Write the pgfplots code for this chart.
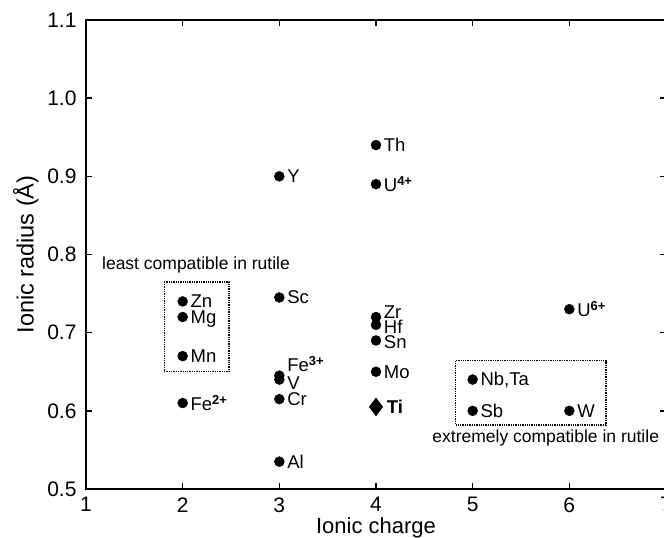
\documentclass[border=0pt]{standalone}
\usepackage{fontspec}
\setmainfont{Liberation Sans}
\usepackage{pgfplots}
\pgfplotsset{compat=1.18}

\newcommand{\lab}{\fontsize{18.5}{19}\selectfont}
\newcommand{\chg}[1]{\textsuperscript{\bfseries #1}}

\begin{document}
\begin{tikzpicture}
\begin{axis}[
    width=580pt, height=469pt,
    scale only axis,
    xmin=1, xmax=7,
    ymin=0.5, ymax=1.1,
    xtick={1,2,3,4,5,6,7},
    ytick={0.5,0.6,0.7,0.8,0.9,1.0,1.1},
    tick align=inside,
    major tick length=6pt,
    axis line style={line width=1.6pt},
    every tick/.style={black, line width=1.4pt},
    ticklabel style={font=\fontsize{21}{22}\selectfont},
    xticklabel style={yshift=-5pt},
    yticklabel style={xshift=-6pt,
        /pgf/number format/fixed,
        /pgf/number format/fixed zerofill,
        /pgf/number format/precision=1},
    /pgf/number format/assume math mode=true,
    xlabel={Ionic charge},
    ylabel={Ionic radius (Å)},
    xlabel style={font=\fontsize{22}{24}\selectfont, yshift=2pt},
    ylabel style={font=\fontsize{23.5}{24}\selectfont, yshift=2pt},
    clip=false,
]
% ions with round markers
\addplot[only marks, mark=*, mark size=5pt, black] coordinates {
    (2,0.74) (2,0.72) (2,0.67) (2,0.61)
    (3,0.90) (3,0.745) (3,0.645) (3,0.64) (3,0.615) (3,0.535)
    (4,0.94) (4,0.89) (4,0.72) (4,0.71) (4,0.69) (4,0.65)
    (5,0.64) (5,0.60) (6,0.60) (6,0.73)
};
% Ti
\addplot[only marks, mark=diamond*, mark size=9pt, black] coordinates {(4,0.605)};

% labels
\begin{scope}[every node/.style={anchor=west, inner sep=0pt, font=\lab}]
\node at (axis cs:2.08,0.74) {Zn};
\node at (axis cs:2.08,0.718) {Mg};
\node at (axis cs:2.08,0.67) {Mn};
\node at (axis cs:2.08,0.61) {Fe\chg{2+}};
\node at (axis cs:3.08,0.90) {Y};
\node at (axis cs:3.08,0.745) {Sc};
\node at (axis cs:3.08,0.66) {Fe\chg{3+}};
\node at (axis cs:3.08,0.636) {V};
\node at (axis cs:3.08,0.615) {Cr};
\node at (axis cs:3.08,0.535) {Al};
\node at (axis cs:4.08,0.94) {Th};
\node at (axis cs:4.08,0.89) {U\chg{4+}};
\node at (axis cs:4.08,0.726) {Zr};
\node at (axis cs:4.08,0.707) {Hf};
\node at (axis cs:4.08,0.688) {Sn};
\node at (axis cs:4.08,0.65) {Mo};
\node at (axis cs:4.11,0.605) {\bfseries Ti};
\node at (axis cs:5.08,0.64) {Nb,Ta};
\node at (axis cs:5.08,0.60) {Sb};
\node at (axis cs:6.08,0.60) {W};
\node at (axis cs:6.08,0.73) {U\chg{6+}};
\end{scope}

% compatibility groups
\draw[densely dotted, line width=1.3pt] (axis cs:1.81,0.765) rectangle (axis cs:2.48,0.65);
\draw[densely dotted, line width=1.3pt] (axis cs:4.82,0.664) rectangle (axis cs:6.38,0.582);
\node[anchor=west, inner sep=0pt, font=\fontsize{17.5}{18}\selectfont] at (axis cs:1.165,0.787) {least compatible in rutile};
\node[anchor=east, inner sep=0pt, font=\fontsize{17.5}{18}\selectfont] at (axis cs:6.93,0.565) {extremely compatible in rutile};
\end{axis}
\pgfresetboundingbox
\path (current axis.south west) ++(-86pt,-49pt) rectangle ++(664pt,538pt);
\end{tikzpicture}
\end{document}
